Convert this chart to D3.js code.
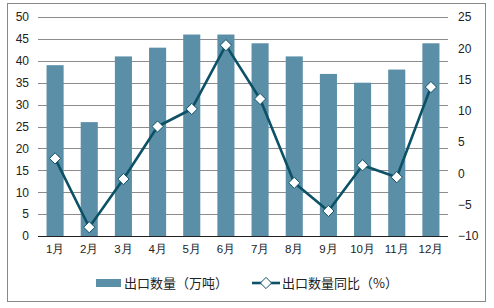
<!DOCTYPE html>
<html>
<head>
<meta charset="utf-8">
<script src="https://cdn.jsdelivr.net/npm/d3@7"></script>
<style>
	body { margin: 0; background: #fff; }
	svg { font-family: "Liberation Sans", Arial, "Noto Sans CJK SC", sans-serif; }
</style>
</head>
<body>
<svg id="chart" width="494" height="308"></svg>
<script>
const months = ['1月', '2月', '3月', '4月', '5月', '6月', '7月', '8月', '9月', '10月', '11月', '12月'];
const exportVolume = [39, 26, 41, 43, 46, 46, 44, 41, 37, 35, 38, 44];
const yoyGrowth = [2.4, -8.6, -0.9, 7.5, 10.3, 20.5, 11.9, -1.5, -6.0, 1.3, -0.6, 13.8];
const leftTicks = [0, 5, 10, 15, 20, 25, 30, 35, 40, 45, 50];
const rightTicks = [-10, -5, 0, 5, 10, 15, 20, 25];
const barName = '出口数量（万吨）';
const lineName = '出口数量同比（%）';

const barColor = '#5b8fa8';
const lineColor = '#0c5166';

const svg = d3.select('#chart');
const plot = { left: 38, right: 448, top: 17, bottom: 236 };

// outer frame
svg.append('rect')
	.attr('x', 7.5).attr('y', 3.5)
	.attr('width', 478).attr('height', 298)
	.attr('fill', 'none').attr('stroke', '#888');

const x = d3.scaleBand().domain(months).range([plot.left, plot.right]).paddingInner(0.5).paddingOuter(0.25);
const yLeft = d3.scaleLinear().domain([0, 50]).range([plot.bottom, plot.top]);
const yRight = d3.scaleLinear().domain([-10, 25]).range([plot.bottom, plot.top]);

// gridlines
svg.append('g')
	.selectAll('line')
	.data(leftTicks.filter((d) => d > 0))
	.join('line')
	.attr('x1', plot.left).attr('x2', plot.right)
	.attr('y1', (d) => Math.round(yLeft(d)) + 0.5)
	.attr('y2', (d) => Math.round(yLeft(d)) + 0.5)
	.attr('stroke', '#8c8c8c').attr('stroke-width', 1);

// bars
svg.append('g')
	.selectAll('rect')
	.data(exportVolume)
	.join('rect')
	.attr('x', (d, i) => x(months[i]))
	.attr('width', x.bandwidth())
	.attr('y', (d) => yLeft(d))
	.attr('height', (d) => yLeft(0) - yLeft(d))
	.attr('fill', barColor);

// axes
const leftAxis = svg.append('g')
	.attr('transform', `translate(${plot.left},0)`)
	.call(d3.axisLeft(yLeft).tickValues(leftTicks).tickSize(0).tickPadding(9));
leftAxis.select('.domain').remove();

const rightAxis = svg.append('g')
	.attr('transform', `translate(${plot.right},0)`)
	.call(d3.axisRight(yRight).tickValues(rightTicks).tickSize(0).tickPadding(10));
rightAxis.select('.domain').remove();

const bottomAxis = svg.append('g')
	.attr('transform', `translate(0,${plot.bottom})`)
	.call(d3.axisBottom(x).tickSize(0).tickPadding(9));
bottomAxis.select('.domain').attr('stroke', '#222').attr('d', `M${plot.left},0.5H${plot.right}`);

svg.selectAll('.tick text').attr('font-size', 12).attr('fill', '#222');
bottomAxis.selectAll('.tick text').attr('font-size', 11.5);

// line
const line = d3.line()
	.x((d, i) => x(months[i]) + x.bandwidth() / 2)
	.y((d) => yRight(d));

svg.append('path')
	.datum(yoyGrowth)
	.attr('d', line)
	.attr('fill', 'none')
	.attr('stroke', lineColor)
	.attr('stroke-width', 2.6)
	.attr('stroke-linejoin', 'round');

const diamond = d3.symbol().type(d3.symbolDiamond2).size(80);
svg.append('g')
	.selectAll('path')
	.data(yoyGrowth)
	.join('path')
	.attr('d', diamond)
	.attr('transform', (d, i) => `translate(${x(months[i]) + x.bandwidth() / 2},${yRight(d)})`)
	.attr('fill', '#fff')
	.attr('stroke', lineColor)
	.attr('stroke-width', 1);

// legend
const legend = svg.append('g')
	.attr('font-size', 13)
	.attr('font-family', '"Noto Sans CJK SC", sans-serif')
	.attr('fill', '#222');
legend.append('rect')
	.attr('x', 96).attr('y', 279).attr('width', 25).attr('height', 8)
	.attr('fill', barColor);
legend.append('text')
	.attr('x', 124).attr('y', 288).text(barName);
legend.append('line')
	.attr('x1', 252).attr('x2', 280).attr('y1', 283).attr('y2', 283)
	.attr('stroke', lineColor).attr('stroke-width', 2.6);
legend.append('path')
	.attr('d', diamond)
	.attr('transform', 'translate(266,283)')
	.attr('fill', '#fff').attr('stroke', lineColor);
legend.append('text')
	.attr('x', 282).attr('y', 288).text(lineName);
</script>
</body>
</html>
